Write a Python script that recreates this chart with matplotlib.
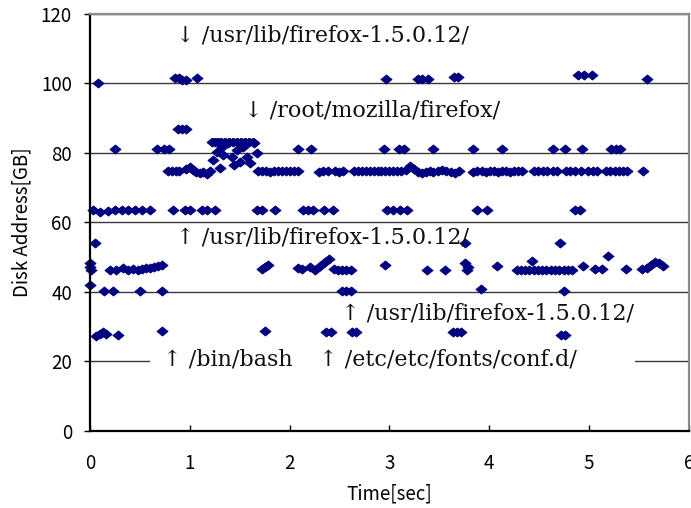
#!/usr/bin/env python3
# Disk access pattern while starting firefox (time vs disk address)

import matplotlib
matplotlib.use("Agg")
import matplotlib.pyplot as plt
from matplotlib.path import Path
from matplotlib.patches import Rectangle

# ---- data: time [sec] and disk address [GB], grouped by address band ----
t_top = [0.08, 0.85, 0.89, 0.92, 0.96, 1.07, 2.97, 3.29, 3.33, 3.39,
         3.65, 3.69, 4.89, 4.95, 5.03, 5.58]
a_top = [100.1, 101.5, 101.5, 100.9, 100.9, 101.5, 101.3, 101.3, 101.3, 101.3,
         101.8, 101.8, 102.4, 102.4, 102.4, 101.3]

t_87 = [0.88, 0.92, 0.96]
a_87 = [86.9, 86.9, 86.9]

t_81 = [0.25, 0.67, 0.74, 0.79, 2.08, 2.21, 2.95, 3.10, 3.15, 3.44,
        3.84, 4.13, 4.64, 4.76, 4.93, 5.22, 5.27, 5.31]
a_81 = [81.1, 81.1, 81.1, 81.1, 81.1, 81.1, 81.1, 81.1, 81.1, 81.1,
        81.1, 81.1, 81.1, 81.1, 81.1, 81.1, 81.1, 81.1]

# row partly hidden by the text box
t_83 = [1.22, 1.25, 1.28, 1.31, 1.35, 1.39, 1.43, 1.47, 1.51, 1.55, 1.59, 1.63]
a_83 = [83.3, 83.3, 83.3, 83.3, 83.3, 83.3, 83.3, 83.3, 83.3, 83.3, 83.3, 83.3]

t_mid = [1.23, 1.27, 1.32, 1.33, 1.38, 1.42, 1.44, 1.47, 1.50, 1.53,
         1.57, 1.60, 1.64, 1.67]
a_mid = [78.0, 80.3, 81.7, 79.4, 82.9, 78.8, 76.5, 80.9, 77.4, 81.7,
         78.8, 77.1, 82.9, 80.0]

t_75 = [0.78, 0.82, 0.86, 0.89,
        0.96, 1.00, 1.03, 1.06, 1.10, 1.13, 1.17, 1.20,
        1.30,
        1.68, 1.72, 1.76, 1.80, 1.84, 1.88, 1.92, 1.96, 2.00, 2.04, 2.08,
        2.29, 2.33, 2.38, 2.45, 2.49, 2.53,
        2.64, 2.68, 2.72, 2.76, 2.80, 2.84, 2.88, 2.92, 2.96, 3.00, 3.04, 3.08, 3.12,
        3.17, 3.21, 3.25, 3.29, 3.33, 3.37, 3.41, 3.44,
        3.49, 3.53, 3.57, 3.62, 3.66, 3.70,
        3.84, 3.88, 3.93, 3.97, 4.01, 4.05, 4.09, 4.13, 4.17, 4.21, 4.25, 4.29, 4.33,
        4.45, 4.49, 4.54, 4.58, 4.64, 4.68,
        4.77, 4.81, 4.86, 4.92,
        4.99, 5.04, 5.08,
        5.17, 5.21, 5.26, 5.30, 5.34, 5.38,
        5.54]
a_75 = [74.8, 74.8, 74.8, 74.8,
        75.5, 76.0, 75.2, 74.5, 74.2, 74.5, 74.0, 74.8,
        75.7,
        74.8, 74.8, 74.8, 74.5, 74.8, 74.8, 74.8, 74.8, 74.8, 74.8, 74.8,
        74.5, 74.8, 74.8, 74.8, 74.5, 74.8,
        74.8, 74.8, 74.8, 74.8, 74.8, 74.8, 74.8, 74.8, 74.8, 74.8, 74.8, 74.8, 74.8,
        75.0, 76.3, 75.3, 74.5, 74.2, 74.5, 74.8, 74.5,
        74.8, 75.0, 74.8, 74.5, 74.3, 74.8,
        74.5, 74.8, 74.8, 74.5, 74.8, 74.8, 74.5, 74.8, 74.8, 74.5, 74.8, 74.8, 74.8,
        74.8, 74.8, 74.8, 74.8, 74.8, 74.8,
        74.8, 74.8, 74.8, 74.8,
        74.8, 74.8, 74.8,
        74.8, 74.8, 74.8, 74.8, 74.8, 74.8,
        74.8]

t_63 = [0.03, 0.10, 0.18, 0.25, 0.32, 0.38, 0.45, 0.52, 0.60, 0.83,
        0.95, 1.00, 1.12, 1.17, 1.25, 1.67, 1.72, 1.85, 2.13, 2.18,
        2.23, 2.34, 2.43, 2.98, 3.04, 3.11, 3.18, 3.88, 3.98, 4.86, 4.91]
a_63 = [63.6, 63.1, 63.4, 63.6, 63.6, 63.6, 63.6, 63.6, 63.6, 63.6,
        63.6, 63.6, 63.6, 63.6, 63.6, 63.6, 63.6, 63.6, 63.6, 63.6,
        63.6, 63.6, 63.6, 63.6, 63.6, 63.6, 63.6, 63.6, 63.6, 63.6, 63.6]

t_54 = [0.05, 3.76, 4.71]
a_54 = [54.1, 54.1, 54.1]

t_47 = [0.00, 0.00, 0.01, 0.00,
        0.20, 0.26, 0.33, 0.38, 0.43, 0.48, 0.52, 0.56, 0.60, 0.64, 0.68, 0.72,
        1.72, 1.75, 1.78,
        2.08, 2.12, 2.20, 2.25, 2.30, 2.35, 2.39, 2.44, 2.48, 2.52, 2.56, 2.61,
        2.96, 3.38, 3.56, 3.76, 3.79, 3.78, 4.08,
        4.28, 4.32, 4.36, 4.40, 4.45, 4.49, 4.53, 4.57, 4.62, 4.66, 4.70, 4.75,
        4.79, 4.83, 4.43,
        4.94, 5.06, 5.13, 5.19, 5.37, 5.53, 5.58, 5.62, 5.66, 5.70, 5.74]
a_47 = [48.3, 47.2, 46.3, 42.0,
        46.4, 46.4, 46.8, 46.4, 46.6, 46.4, 46.6, 46.8, 47.0, 47.2, 47.5, 47.7,
        46.5, 47.2, 47.8,
        46.9, 46.6, 47.2, 46.4, 47.6, 48.6, 49.5, 46.5, 46.4, 46.4, 46.4, 46.4,
        47.8, 46.3, 46.3, 48.4, 47.2, 46.4, 47.5,
        46.3, 46.3, 46.3, 46.3, 46.3, 46.3, 46.3, 46.3, 46.3, 46.3, 46.3, 46.3,
        46.3, 46.3, 48.8,
        47.5, 46.7, 46.7, 50.4, 46.7, 46.7, 46.9, 47.8, 48.5, 48.3, 47.6]

t_40 = [0.14, 0.23, 0.50, 0.72, 2.52, 2.56, 2.61, 3.92, 4.75]
a_40 = [40.2, 40.2, 40.2, 40.2, 40.2, 40.2, 40.2, 40.8, 40.2]

t_28 = [0.06, 0.10, 0.13, 0.16, 0.28, 0.72, 1.75, 2.36, 2.41, 2.62,
        2.66, 3.64, 3.68, 3.72, 4.72, 4.76]
a_28 = [27.4, 27.8, 28.6, 27.8, 27.6, 28.8, 28.8, 28.6, 28.6, 28.6,
        28.6, 28.6, 28.6, 28.6, 27.6, 27.6]

times = t_top + t_87 + t_81 + t_83 + t_mid + t_75 + t_63 + t_54 + t_47 + t_40 + t_28
addrs = a_top + a_87 + a_81 + a_83 + a_mid + a_75 + a_63 + a_54 + a_47 + a_40 + a_28

# annotations: (text, time, address)
notes = [
    ("\u2193 /usr/lib/firefox-1.5.0.12/", 0.86, 113.7),
    ("\u2193 /root/mozilla/firefox/", 1.54, 92.1),
    ("\u2191 /usr/lib/firefox-1.5.0.12/", 0.86, 55.6),
    ("\u2191 /usr/lib/firefox-1.5.0.12/", 2.51, 33.9),
    ("\u2191 /bin/bash", 0.73, 20.6),
    ("\u2191 /etc/etc/fonts/conf.d/", 2.29, 20.6),
]

# ---- figure ----
fig = plt.figure(figsize=(6.91, 5.08), dpi=100)
ax = fig.add_axes([0.1302, 0.1516, 0.8669, 0.8209])

diamond = Path([(-1, 0), (0, 0.82), (1, 0), (0, -0.82), (-1, 0)],
               [Path.MOVETO, Path.LINETO, Path.LINETO, Path.LINETO, Path.CLOSEPOLY])
ax.plot(times, addrs, linestyle="none", marker=diamond, markersize=8,
        color="#000080", markeredgewidth=0.6, zorder=2, clip_on=False)

ax.set_xlim(0, 6)
ax.set_ylim(0, 120)
ax.set_xticks(range(0, 7))
ax.set_yticks(range(0, 121, 20))

# horizontal grid
ax.set_axisbelow(True)
ax.yaxis.grid(True, color="#3a3a3a", linewidth=1.0)

# white text boxes (as in the spreadsheet original)
ax.add_patch(Rectangle((0.60, 17.0), 4.86, 7.5, facecolor="white",
                       edgecolor="none", zorder=1.5))
ax.add_patch(Rectangle((1.15, 84.3), 3.1, 12.0, facecolor="white",
                       edgecolor="none", zorder=3))

for txt, x, y in notes:
    ax.text(x, y, txt, ha="left", va="center", fontsize=16,
            family=["DejaVu Serif"], color="#111111", zorder=4)

# spines
for side in ("left", "bottom"):
    ax.spines[side].set_color("black")
    ax.spines[side].set_linewidth(1.6)
for side in ("top", "right"):
    ax.spines[side].set_color("#8a8a8a")
    ax.spines[side].set_linewidth(1.6)

lab_font = ["Noto Sans CJK JP", "DejaVu Sans"]
ax.tick_params(axis="y", direction="out", length=4, width=1, pad=9,
               labelsize=13.5)
ax.tick_params(axis="x", direction="in", length=4, width=1, pad=16,
               labelsize=13.5)
for lab in ax.get_xticklabels() + ax.get_yticklabels():
    lab.set_family(lab_font)

ax.set_xlabel("Time[sec]", fontsize=13.5, family=lab_font)
ax.set_ylabel("Disk Address[GB]", fontsize=13.5, family=lab_font)
ax.xaxis.set_label_coords(0.5, -0.125)
ax.yaxis.set_label_coords(-0.096, 0.5)

fig.savefig("out.png", dpi=100)
